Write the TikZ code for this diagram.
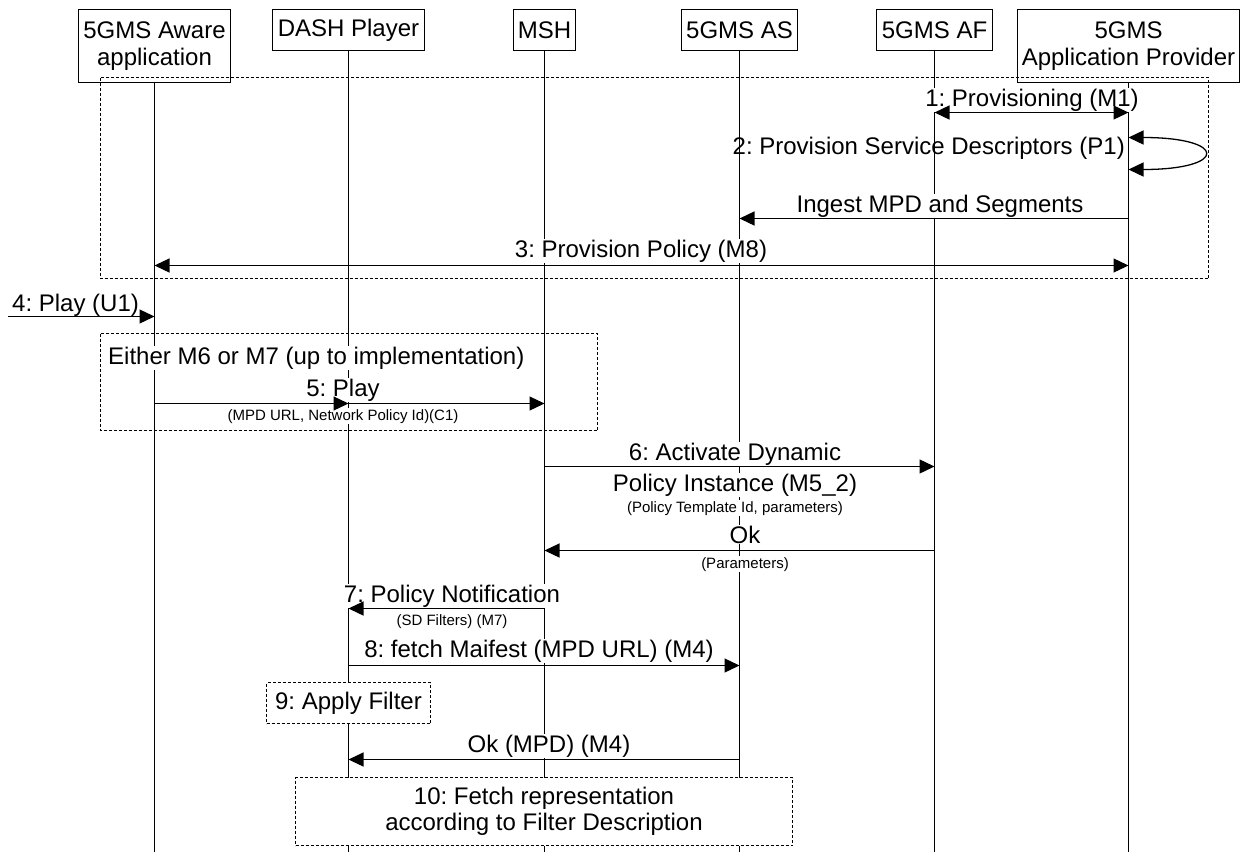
\documentclass[tikz,border=0pt]{standalone}
\usepackage{fontspec}
\setmainfont{Liberation Sans}
\usetikzlibrary{arrows.meta}
\frenchspacing
\begin{document}
\frenchspacing
\begin{tikzpicture}[x=1pt,y=-1pt,
  hdr/.style={draw, line width=1.3pt, inner sep=0pt, align=center, font=\fontsize{24}{26.5}\selectfont},
  life/.style={line width=1.3pt},
  msg/.style={line width=1.3pt, -{Triangle[length=15pt,width=14pt]}},
  bmsg/.style={line width=1.3pt, {Triangle[length=15pt,width=14pt]}-{Triangle[length=15pt,width=14pt]}},
  lbl/.style={font=\fontsize{24}{27}\selectfont, inner sep=1pt, fill=white},
  lblnf/.style={font=\fontsize{24}{27}\selectfont, inner sep=1pt},
  sml/.style={font=\fontsize{15}{17}\selectfont, inner sep=1pt, fill=white},
  grp/.style={draw, line width=1pt, dash pattern=on 3pt off 2pt},
  note/.style={grp, fill=white, inner sep=0pt, align=center, font=\fontsize{24}{26}\selectfont},
]
\path[fill=white, use as bounding box] (0,0) rectangle (1241,852);
\coordinate (bot) at (0,852);

% headers
\node[hdr, minimum width=152pt, minimum height=73pt] (app) at (154.5,46) {5GMS Aware\\application};
\node[hdr, minimum width=152pt, minimum height=41pt] (dash) at (348.5,30) {DASH Player};
\node[hdr, minimum width=62pt, minimum height=41pt] (msh) at (544.5,30) {MSH};
\node[hdr, minimum width=116pt, minimum height=41pt] (as) at (739.5,30) {5GMS AS};
\node[hdr, minimum width=116pt, minimum height=41pt] (af) at (934.5,30) {5GMS AF};
\node[hdr, minimum width=222pt, minimum height=73pt] (ap) at (1128.5,46) {5GMS\\Application Provider};

% lifelines
\foreach \n in {app,dash,msh,as,af,ap}
  \draw[life] (\n.south) -- (\n.south |- bot);

% group boxes
\draw[grp] (100.5,77.5) rectangle (1208.5,278.5);
\draw[grp] (100.5,333.5) rectangle (597.5,430.5);

% labels
\node[lbl, anchor=base] (l1) at (1032,106) {1: Provisioning (M1)};
\node[lblnf, anchor=base east] (l2) at (1126,154) {2: Provision Service Descriptors (P1)};
\node[lbl, anchor=base] (li) at (940,212) {Ingest MPD and Segments};
\node[lbl, anchor=base] (l3) at (641,257) {3: Provision Policy (M8)};
\node[lblnf, anchor=base west] (l4) at (11,311) {4: Play (U1)};
\node[lbl, anchor=base west] (lg) at (107,364) {Either M6 or M7 (up to implementation)};
\node[lbl, anchor=base] (l5) at (343,396) {5: Play};
\node[sml, anchor=base] (l5s) at (343,420) {(MPD URL, Network Policy Id)(C1)};
\node[lbl, anchor=base] (l6a) at (735,460) {6: Activate Dynamic};
\node[lbl, anchor=base] (l6b) at (735,491) {Policy Instance (M5\_2)};
\node[sml, anchor=base] (l6c) at (735,512) {(Policy Template Id, parameters)};
\node[lbl, anchor=base] (lok) at (745,543) {Ok};
\node[sml, anchor=base] (loks) at (745,568) {(Parameters)};
\node[lbl, anchor=base] (l7) at (452,602) {7: Policy Notification};
\node[sml, anchor=base] (l7s) at (452,625) {(SD Filters) (M7)};
\node[lbl, anchor=base] (l8) at (539,657) {8: fetch Maifest (MPD URL) (M4)};
\node[lbl, anchor=base] (lm) at (549,752) {Ok (MPD) (M4)};

% message levels
\coordinate (y1) at (0,112.5);
\coordinate (y2a) at (0,137.5);
\coordinate (y2b) at (0,169.5);
\coordinate (yi) at (0,218.5);
\coordinate (y3) at (0,265.5);
\coordinate (y4) at (8,316.5);
\coordinate (y5) at (0,403.5);
\coordinate (y6) at (0,466.5);
\coordinate (yok) at (0,550.5);
\coordinate (y7) at (0,608.5);
\coordinate (y8) at (0,665.5);
\coordinate (ym) at (0,759.5);

% messages
\draw[bmsg] (af |- y1) -- (ap |- y1);
\draw[bmsg] (ap |- y2a) .. controls (1228,137.5) and (1228,169.5) .. (ap |- y2b);
\draw[msg] (ap |- yi) -- (as |- yi);
\draw[bmsg] (app |- y3) -- (ap |- y3);
\draw[msg] (y4) -- (app |- y4);
\draw[msg] (app |- y5) -- (msh |- y5);
\draw[msg] (app |- y5) -- (dash |- y5);
\draw[msg] (msh |- y6) -- (af |- y6);
\draw[msg] (af |- yok) -- (msh |- yok);
\draw[msg] (msh |- y7) -- (dash |- y7);
\draw[msg] (dash |- y8) -- (as |- y8);
\draw[msg] (as |- ym) -- (dash |- ym);

% notes
\node[note, minimum width=164pt, minimum height=41pt] (n9) at (348.5,703) {9: Apply Filter};
\node[note, minimum width=497pt, minimum height=68pt] (n10) at (544,811.5) {10: Fetch representation\\according to Filter Description};
\end{tikzpicture}
\end{document}
